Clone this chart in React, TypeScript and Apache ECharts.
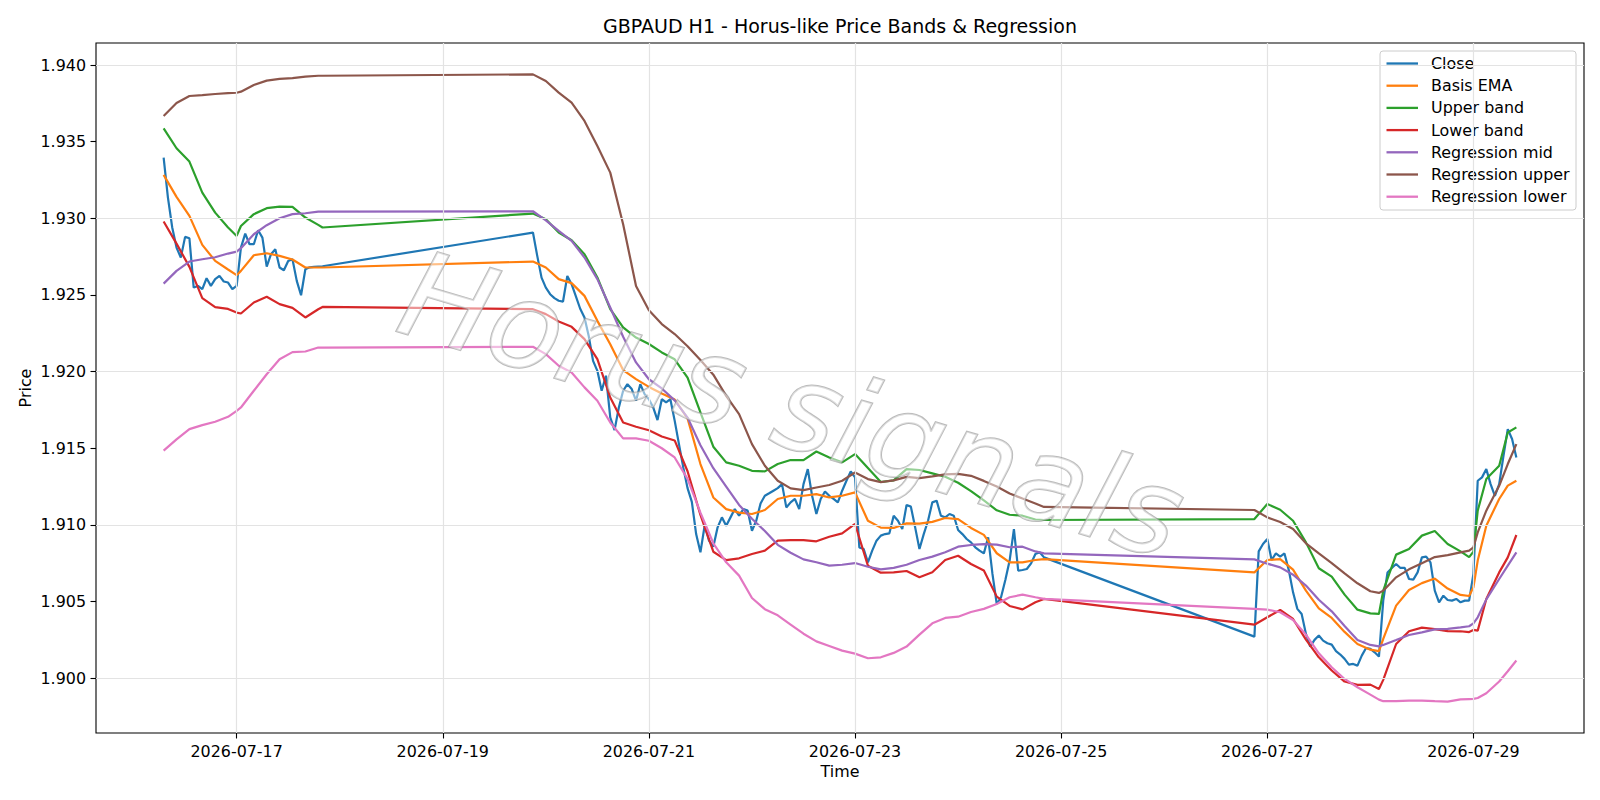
import React, { useEffect, useRef } from "react";
import * as echarts from "echarts";

// Hours are counted from 2026-07-16 00:00 (hourly candles, weekend gaps)
const BASE_DAY = 16;
const closeSegments: [number, number][] = [
  [7, 44],
  [93, 212],
  [261, 322],
];

const closeValues = [
  1.93396, 1.93135, 1.9294, 1.92809, 1.92744, 1.92879, 1.9287, 1.92548, 1.92559, 1.92538,
  1.92609, 1.92559, 1.92603, 1.92624, 1.92588, 1.92581, 1.92538, 1.92559, 1.92809, 1.929,
  1.92831, 1.92831, 1.92922, 1.92874, 1.92685, 1.92766, 1.92798, 1.92679, 1.92661, 1.92722,
  1.92733, 1.92592, 1.92498, 1.92668, 1.9268, 1.92683, 1.92685, 1.92687,
  1.92907, 1.92755, 1.92613, 1.92548, 1.92505, 1.92479, 1.92462, 1.92457, 1.92624, 1.9257,
  1.9249, 1.9241, 1.92353, 1.9223, 1.9207, 1.92005, 1.91875, 1.91973, 1.91701, 1.91618,
  1.91766, 1.91875, 1.91918, 1.91886, 1.9181, 1.91918, 1.91853, 1.9182, 1.91766, 1.91684,
  1.9182, 1.91799, 1.9182, 1.9168, 1.91527, 1.91375, 1.9124, 1.9115, 1.9094, 1.90821,
  1.90999, 1.90897, 1.90858, 1.90984, 1.91049, 1.90995, 1.91049, 1.91103, 1.9106, 1.91103,
  1.91093, 1.90962, 1.91027, 1.9114, 1.9119, 1.91206, 1.91223, 1.9124, 1.91266, 1.91114,
  1.91147, 1.91169, 1.91103, 1.91266, 1.91364, 1.9119, 1.91071, 1.91169, 1.91218, 1.9119,
  1.91169, 1.91147, 1.91223, 1.91288, 1.91349, 1.9131, 1.90853, 1.90843, 1.90756, 1.90832,
  1.90897, 1.9093, 1.9094, 1.90945, 1.9106, 1.91027, 1.90973, 1.9113, 1.91119, 1.90984,
  1.90843, 1.9094, 1.91027, 1.91147, 1.91158, 1.9106, 1.91049, 1.91071, 1.9106, 1.90967,
  1.9094, 1.90908, 1.90886, 1.90854, 1.90832, 1.90814, 1.90919, 1.9068, 1.90484, 1.90528,
  1.9064, 1.90767, 1.90973, 1.90701, 1.90706, 1.90712, 1.90749, 1.9081, 1.90821, 1.90788,
  1.90271, 1.90827, 1.90875, 1.90908, 1.90771, 1.90814, 1.90793, 1.90814, 1.90706, 1.9056,
  1.90452, 1.90419, 1.90289, 1.90206, 1.9025, 1.90278, 1.90245, 1.90228, 1.90219, 1.90176,
  1.90154, 1.90126, 1.90089, 1.90093, 1.90082, 1.90147, 1.90197, 1.90191, 1.90169, 1.90141,
  1.90506, 1.9069, 1.90719, 1.90745, 1.90719, 1.90719, 1.90647, 1.90643, 1.9069, 1.90788,
  1.90793, 1.90756, 1.90571, 1.90495, 1.90538, 1.9051, 1.90506, 1.90517, 1.90495, 1.90506,
  1.90506, 1.9068, 1.91288, 1.9131, 1.91364, 1.91266, 1.9119, 1.91266, 1.91451, 1.91625,
  1.9156, 1.9144,
];

const bandHours = [
  7, 10, 13, 16, 19, 22, 24, 25, 28, 31, 34, 37, 40, 43, 44,
  93, 96, 99, 102, 105, 108, 111, 114, 117, 120, 123, 126, 129, 132, 135, 138, 141, 144, 147, 150,
  153, 156, 159, 162, 165, 168, 171, 174, 177, 180, 183, 186, 189, 192, 195, 198, 201, 204, 207, 210, 212,
  261, 264, 267, 270, 273, 276, 279, 282, 285, 288, 290, 291, 294, 297, 300, 303, 306, 309, 311, 312,
  313, 315, 318, 320, 322,
];

const basisEma = [
  1.93283, 1.9314, 1.93016, 1.92827, 1.92722, 1.92666, 1.92629, 1.92657, 1.92759, 1.92772, 1.92755, 1.92731, 1.92679, 1.92679, 1.92679,
  1.92718, 1.92679, 1.92603, 1.92577, 1.92494, 1.92331, 1.92179, 1.9201, 1.91951, 1.919, 1.91857, 1.91818, 1.91695, 1.91397, 1.91179,
  1.91103, 1.9108, 1.91071, 1.91097, 1.91169, 1.9119, 1.9119, 1.91201, 1.91179, 1.9119, 1.91212, 1.91027, 1.90982, 1.9098, 1.9101,
  1.91008, 1.9102, 1.91045, 1.91038, 1.9098, 1.90935, 1.90815, 1.90756, 1.90756, 1.90771, 1.90777,
  1.9069, 1.90771, 1.90777, 1.90708, 1.90571, 1.90456, 1.90393, 1.90302, 1.90223, 1.90186, 1.90176, 1.90256, 1.90473, 1.90575, 1.9062,
  1.9065, 1.90585, 1.90543, 1.90536, 1.90593, 1.90767, 1.90995, 1.91169, 1.91256, 1.91288,
];

const upperBand = [
  1.93587, 1.93457, 1.9337, 1.93168, 1.93037, 1.9294, 1.92885, 1.9295, 1.93027, 1.93066, 1.93076, 1.93074, 1.93005, 1.92957, 1.9294,
  1.93031, 1.92994, 1.92907, 1.92857, 1.92766, 1.92614, 1.92407, 1.92288, 1.92222, 1.9218, 1.92125, 1.9208, 1.9196, 1.91734, 1.9151,
  1.91408, 1.91386, 1.91353, 1.91349, 1.91397, 1.91423, 1.91423, 1.91479, 1.9144, 1.91408, 1.91462, 1.91371, 1.9128, 1.9129, 1.91364,
  1.91358, 1.91336, 1.91314, 1.91275, 1.9122, 1.9116, 1.91095, 1.91066, 1.9106, 1.91035, 1.91032,
  1.91038, 1.91136, 1.91099, 1.91027, 1.90886, 1.90717, 1.90662, 1.90545, 1.90447, 1.90423, 1.90419, 1.90571, 1.90806, 1.90843, 1.9093,
  1.9096, 1.90875, 1.90827, 1.9079, 1.90825, 1.91093, 1.91299, 1.91386, 1.91603, 1.91636,
];

const lowerBand = [
  1.92979, 1.92835, 1.92683, 1.92479, 1.9242, 1.92409, 1.92385, 1.92379, 1.92451, 1.92488, 1.9244, 1.92416, 1.92353, 1.92407, 1.92422,
  1.92407, 1.92375, 1.92327, 1.92292, 1.92212, 1.92081, 1.91831, 1.91668, 1.9164, 1.91617, 1.91577, 1.91551, 1.9135, 1.91065, 1.90825,
  1.9077, 1.90782, 1.9081, 1.90832, 1.90897, 1.90901, 1.90901, 1.90893, 1.90923, 1.90945, 1.91006, 1.90734, 1.90688, 1.9069, 1.90699,
  1.90658, 1.90691, 1.90771, 1.90799, 1.90745, 1.90702, 1.90532, 1.90471, 1.90449, 1.90495, 1.90517,
  1.90349, 1.90397, 1.90445, 1.90386, 1.90252, 1.90136, 1.9005, 1.89978, 1.89956, 1.89958, 1.8993, 1.89989, 1.90223, 1.90306, 1.9033,
  1.9032, 1.90307, 1.90306, 1.90301, 1.90315, 1.9031, 1.90517, 1.9069, 1.90788, 1.90934,
];

const regressionMid = [
  1.92574, 1.92657, 1.92718, 1.92733, 1.92746, 1.9277, 1.92783, 1.92805, 1.92896, 1.92955, 1.93, 1.93027, 1.93033, 1.93044, 1.93044,
  1.93046, 1.92987, 1.92918, 1.92853, 1.92744, 1.92603, 1.92418, 1.92227, 1.9206, 1.9195, 1.9189, 1.91812, 1.917, 1.9152, 1.9137,
  1.9125, 1.9113, 1.9104, 1.9096, 1.9087, 1.90818, 1.90775, 1.90756, 1.90734, 1.9074, 1.90751, 1.90727, 1.9071, 1.9072, 1.9074,
  1.90771, 1.90793, 1.90821, 1.90858, 1.90869, 1.90875, 1.90871, 1.90854, 1.90858, 1.90827, 1.90814,
  1.90775, 1.90747, 1.90723, 1.90675, 1.90604, 1.90512, 1.90436, 1.9034, 1.90249, 1.90217, 1.90208, 1.90217, 1.90249, 1.90282, 1.90299,
  1.90318, 1.90322, 1.90332, 1.90339, 1.90358, 1.90397, 1.90514, 1.90647, 1.90734, 1.90821,
];

const regressionUpper = [
  1.93668, 1.93752, 1.93798, 1.93804, 1.93811, 1.93817, 1.93819, 1.93826, 1.9387, 1.93898, 1.93909, 1.93915, 1.93924, 1.9393, 1.9393,
  1.93939, 1.93896, 1.9382, 1.93754, 1.93635, 1.93472, 1.93298, 1.92961, 1.92559, 1.924, 1.9231, 1.92245, 1.92165, 1.92075, 1.9198,
  1.91842, 1.91723, 1.91527, 1.91386, 1.91288, 1.91238, 1.91227, 1.91244, 1.9126, 1.91288, 1.91342, 1.91299, 1.91279, 1.9129, 1.91313,
  1.91305, 1.91316, 1.9133, 1.91333, 1.9132, 1.91287, 1.9125, 1.91205, 1.91172, 1.9114, 1.91117,
  1.91097, 1.91049, 1.91019, 1.90973, 1.9088, 1.90814, 1.90751, 1.90684, 1.90619, 1.90567, 1.90556, 1.90571, 1.90658, 1.9071, 1.9075,
  1.9079, 1.90803, 1.90821, 1.90832, 1.90853, 1.90951, 1.91093, 1.91255, 1.91397, 1.91527,
];

const regressionLower = [
  1.91484, 1.91558, 1.91625, 1.91651, 1.91673, 1.91705, 1.91744, 1.91766, 1.91875, 1.91983, 1.92081, 1.92127, 1.92131, 1.92157, 1.92157,
  1.92162, 1.92114, 1.92038, 1.91994, 1.91897, 1.9181, 1.91668, 1.91564, 1.91564, 1.91549, 1.915, 1.9144, 1.913, 1.9108, 1.9088,
  1.90756, 1.90669, 1.90523, 1.9045, 1.9041, 1.9035, 1.9029, 1.9024, 1.9021, 1.9018, 1.9016, 1.9013, 1.90136, 1.90165, 1.90206,
  1.90284, 1.90358, 1.90393, 1.90401, 1.90432, 1.90452, 1.90484, 1.90528, 1.90545, 1.90528, 1.90517,
  1.90452, 1.90447, 1.9043, 1.9038, 1.90284, 1.90162, 1.90071, 1.89995, 1.89941, 1.89893, 1.8986, 1.8985, 1.8985, 1.89854, 1.89854,
  1.8985, 1.89847, 1.89862, 1.89864, 1.89865, 1.89871, 1.89902, 1.89978, 1.90045, 1.90115,
];

const xTickDays = [17, 19, 21, 23, 25, 27, 29];
const yTickValues = [1.9, 1.905, 1.91, 1.915, 1.92, 1.925, 1.93, 1.935, 1.94];

const seriesNames = [
  "Close",
  "Basis EMA",
  "Upper band",
  "Lower band",
  "Regression mid",
  "Regression upper",
  "Regression lower",
];
const seriesColors = ["#1f77b4", "#ff7f0e", "#2ca02c", "#d62728", "#9467bd", "#8c564b", "#e377c2"];

const TITLE = "GBPAUD H1 - Horus-like Price Bands & Regression";
const WATERMARK = "Horus signals";
const FONT = "DejaVu Sans";

const toDay = (h: number) => BASE_DAY + h / 24;

export default function App() {
  const ref = useRef<HTMLDivElement>(null);

  useEffect(() => {
    if (!ref.current) return;
    const chart = echarts.init(ref.current, null, { renderer: "svg" });

    const closeHours: number[] = [];
    closeSegments.forEach(([a, b]) => {
      for (let h = a; h <= b; h++) closeHours.push(h);
    });

    const bandSets = [basisEma, upperBand, lowerBand, regressionMid, regressionUpper, regressionLower];
    const seriesData: number[][][] = [
      closeHours.map((h, i) => [toDay(h), closeValues[i]]),
      ...bandSets.map((vals) => bandHours.map((h, i) => [toDay(h), vals[i]])),
    ];

    const gridLeft = 96;
    const gridRight = 16;
    const gridTop = 43;
    const gridBottom = 67;
    const plotRight = 1600 - gridRight;
    const plotCenterX = (gridLeft + plotRight) / 2;
    const plotCenterY = (gridTop + (800 - gridBottom)) / 2;

    // legend layout
    const legW = 196;
    const legH = 159;
    const legX = plotRight - 8 - legW;
    const legY = gridTop + 8;
    const legendChildren: any[] = [
      {
        type: "rect",
        shape: { x: legX, y: legY, width: legW, height: legH, r: 3 },
        style: { fill: "rgba(255,255,255,0.8)", stroke: "#cccccc", lineWidth: 1 },
      },
    ];
    seriesNames.forEach((name, i) => {
      const cy = legY + 12.5 + i * 22.2;
      legendChildren.push({
        type: "line",
        shape: { x1: legX + 6.5, y1: cy, x2: legX + 38, y2: cy },
        style: { stroke: seriesColors[i], lineWidth: 2.3 },
      });
      legendChildren.push({
        type: "text",
        x: legX + 51,
        y: cy,
        style: {
          text: name,
          fill: "#000",
          fontSize: 15.9,
          fontFamily: FONT,
          align: "left",
          verticalAlign: "middle",
        },
      });
    });

    const option: any = {
      animation: false,
      backgroundColor: "#ffffff",
      grid: {
        left: gridLeft,
        right: gridRight,
        top: gridTop,
        bottom: gridBottom,
        show: true,
        borderColor: "#000",
        borderWidth: 1.1,
        backgroundColor: "transparent",
      },
      xAxis: {
        type: "value",
        min: 15.6354,
        max: 30.0729,
        axisLine: { show: false },
        axisTick: {
          show: true,
          customValues: xTickDays,
          length: 5.5,
          lineStyle: { color: "#000", width: 1.1 },
        },
        axisLabel: {
          customValues: xTickDays,
          margin: 10,
          color: "#000",
          fontSize: 15.9,
          fontFamily: FONT,
          formatter: (v: number) => `2026-07-${String(Math.round(v)).padStart(2, "0")}`,
        },
        splitLine: { show: false },
      },
      yAxis: {
        type: "value",
        min: 1.896424,
        max: 1.941436,
        axisLine: { show: false },
        axisTick: {
          show: true,
          customValues: yTickValues,
          length: 5.5,
          lineStyle: { color: "#000", width: 1.1 },
        },
        axisLabel: {
          customValues: yTickValues,
          margin: 10,
          color: "#000",
          fontSize: 15.9,
          fontFamily: FONT,
          formatter: (v: number) => v.toFixed(3),
        },
        splitLine: { show: false },
      },
      series: [
        {
          type: "line",
          name: "grid",
          data: [],
          silent: true,
          z: 1,
          markLine: {
            silent: true,
            symbol: ["none", "none"],
            label: { show: false },
            lineStyle: { color: "#e3e3e3", width: 1.2, type: "solid" },
            emphasis: { disabled: true },
            data: [
              ...xTickDays.map((d) => ({ xAxis: d })),
              ...yTickValues.map((v) => ({ yAxis: v })),
            ],
          },
        },
        ...seriesNames.map((name, i) => ({
          type: "line",
          name,
          data: seriesData[i],
          showSymbol: false,
          symbol: "none",
          silent: true,
          z: 2,
          lineStyle: { color: seriesColors[i], width: 2.2 },
          itemStyle: { color: seriesColors[i] },
        })),
      ],
      graphic: [
        {
          type: "text",
          x: plotCenterX,
          y: 26,
          style: {
            text: TITLE,
            fill: "#000",
            fontSize: 19,
            fontFamily: FONT,
            align: "center",
            verticalAlign: "middle",
          },
        },
        {
          type: "text",
          x: plotCenterX,
          y: 771,
          style: {
            text: "Time",
            fill: "#000",
            fontSize: 15.9,
            fontFamily: FONT,
            align: "center",
            verticalAlign: "middle",
          },
        },
        {
          type: "text",
          x: 25.5,
          y: plotCenterY,
          rotation: Math.PI / 2,
          style: {
            text: "Price",
            fill: "#000",
            fontSize: 15.9,
            fontFamily: FONT,
            align: "center",
            verticalAlign: "middle",
          },
        },
        {
          type: "text",
          x: 792,
          y: 405,
          rotation: -0.288,
          z: 50,
          silent: true,
          style: {
            text: WATERMARK,
            fill: "rgba(255,255,255,0.5)",
            stroke: "rgba(150,150,150,0.65)",
            lineWidth: 2,
            fontSize: 120,
            fontStyle: "italic",
            fontFamily: FONT,
            align: "center",
            verticalAlign: "middle",
          },
        },
        {
          type: "group",
          z: 100,
          children: legendChildren,
        },
      ],
    };

    chart.setOption(option);
    return () => {
      chart.dispose();
    };
  }, []);

  return (
    <div
      ref={ref}
      style={{ width: 1600, height: 800, position: "absolute", left: 0, top: 0 }}
    />
  );
}
